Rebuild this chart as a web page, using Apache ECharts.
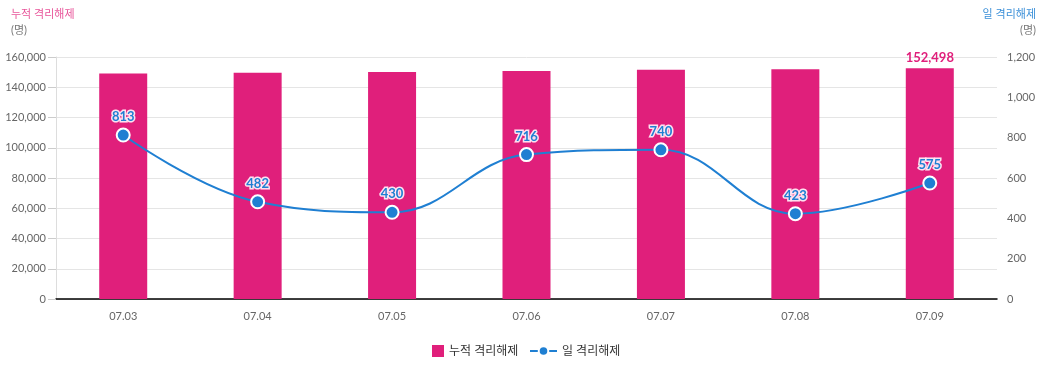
<!DOCTYPE html>
<html>
<head>
<meta charset="utf-8">
<script src="https://cdn.jsdelivr.net/npm/echarts@6/dist/echarts.min.js"></script>
<style>
  html, body { margin: 0; padding: 0; background: #fff; }
  #main { width: 1046px; height: 366px; }
</style>
</head>
<body>
<div id="main"></div>
<script>
var categories = ['07.03', '07.04', '07.05', '07.06', '07.07', '07.08', '07.09'];
var cumulative = [149132, 149614, 150044, 150760, 151500, 151923, 152498];
var daily = [813, 482, 430, 716, 740, 423, 575];

var pink = '#e01f7b';
var blue = '#1f7fd2';
var fontFam = 'Lato, "Noto Sans CJK KR", sans-serif';

var chart = echarts.init(document.getElementById('main'));

var legendText = {color: '#333', fontSize: 12, fontFamily: fontFam};

var opt = {
    textStyle: {fontFamily: fontFam},
    animation: false,
    title: [
        {text: '누적 격리해제', left: 6, top: 4, textStyle: {color: '#e8559a', fontSize: 11, fontWeight: 'normal', fontFamily: fontFam}},
        {text: '(명)', left: 6, top: 20, textStyle: {color: '#777', fontSize: 11, fontWeight: 'normal', fontFamily: fontFam}},
        {text: '일 격리해제', right: 5, top: 4, textStyle: {color: '#3a8fd8', fontSize: 11, fontWeight: 'normal', fontFamily: fontFam}},
        {text: '(명)', right: 5, top: 20, textStyle: {color: '#777', fontSize: 11, fontWeight: 'normal', fontFamily: fontFam}}
    ],
    grid: {left: 56, right: 49, top: 57, bottom: 67},
    legend: [{
        top: 340,
        left: 427,
        itemWidth: 12,
        itemHeight: 12,
        textStyle: legendText,
        data: [{name: '누적 격리해제', icon: 'rect'}]
    }, {
        top: 340,
        left: 524,
        itemWidth: 27,
        itemHeight: 12,
        textStyle: legendText,
        data: [{name: '일 격리해제'}]
    }],
    xAxis: {
        type: 'category',
        data: categories,
        axisLine: {lineStyle: {color: '#000', width: 1.5}},
        axisTick: {show: false},
        axisLabel: {color: '#666', fontSize: 11, margin: 12}
    },
    yAxis: [{
        type: 'value',
        min: 0,
        max: 160000,
        interval: 20000,
        axisLine: {show: true, lineStyle: {color: '#ddd'}},
        axisTick: {show: true, length: 8, lineStyle: {color: '#ccc'}},
        axisLabel: {color: '#666', fontSize: 11, margin: 10, formatter: function (v) { return v.toLocaleString('en-US'); }},
        splitLine: {lineStyle: {color: '#e5e5e5'}}
    }, {
        type: 'value',
        min: 0,
        max: 1200,
        interval: 200,
        axisLine: {show: false},
        axisTick: {show: false},
        axisLabel: {color: '#666', fontSize: 11, margin: 10, formatter: function (v) { return v.toLocaleString('en-US'); }},
        splitLine: {show: false}
    }],
    series: [{
        name: '누적 격리해제',
        type: 'bar',
        barWidth: 48,
        data: cumulative.map(function (v, i) {
            var item = {value: v};
            if (i === cumulative.length - 1) {
                item.label = {
                    show: true,
                    position: 'top',
                    distance: 4,
                    color: pink,
                    fontSize: 13,
                    fontWeight: 'bold',
                    formatter: function (p) { return p.value.toLocaleString('en-US'); }
                };
            }
            return item;
        }),
        itemStyle: {color: pink}
    }, {
        name: '일 격리해제',
        type: 'line',
        yAxisIndex: 1,
        smooth: 0.4,
        symbol: 'circle',
        symbolSize: 13,
        data: daily,
        lineStyle: {color: blue, width: 2},
        itemStyle: {color: blue, borderColor: '#fff', borderWidth: 2},
        label: {
            show: true,
            position: 'top',
            distance: 4,
            color: blue,
            fontSize: 13,
            fontWeight: 'bold',
            textBorderColor: 'rgba(255,235,245,0.95)',
            textBorderWidth: 3
        }
    }]
};

chart.setOption(opt);
</script>
</body>
</html>
